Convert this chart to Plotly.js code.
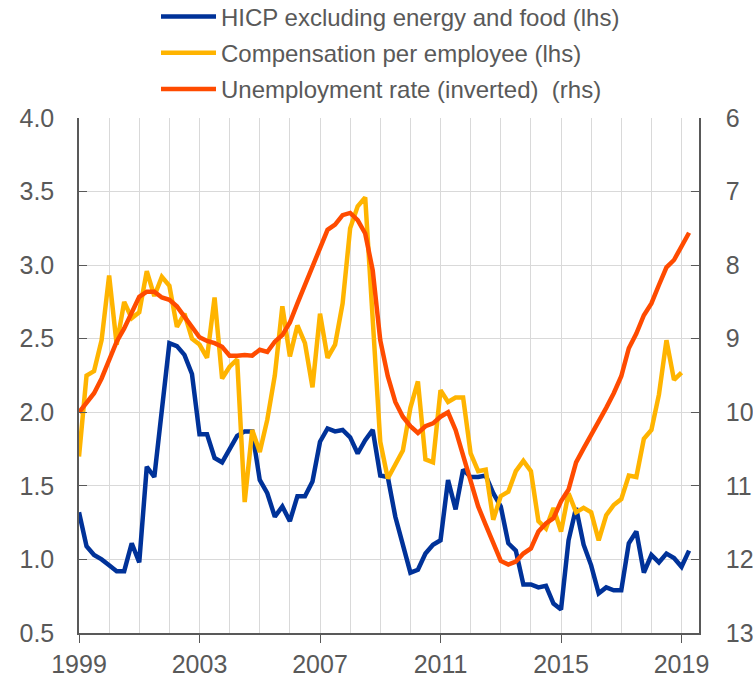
<!DOCTYPE html>
<html>
<head>
<meta charset="utf-8">
<script src="https://cdn.plot.ly/plotly-3.0.1.min.js"></script>
<style>html,body{margin:0;padding:0;background:#fff}</style>
</head>
<body>
<div id="chart" style="width:753px;height:678px"></div>
<script>
// quarterly series, first point = 1999 Q1
var hicp = [1.32, 1.09, 1.03, 1.00, 0.96, 0.92, 0.92, 1.11, 0.98, 1.63, 1.56, 2.02,
    2.47, 2.45, 2.39, 2.26, 1.85, 1.85, 1.69, 1.66, 1.75, 1.84, 1.87, 1.87,
    1.54, 1.45, 1.29, 1.36, 1.26, 1.43, 1.43, 1.53, 1.80, 1.89, 1.87, 1.88,
    1.83, 1.72, 1.81, 1.88, 1.57, 1.56, 1.29, 1.11, 0.91, 0.93, 1.04, 1.10,
    1.13, 1.54, 1.34, 1.61, 1.56, 1.56, 1.57, 1.45, 1.36, 1.11, 1.06, 0.83,
    0.83, 0.81, 0.82, 0.70, 0.66, 1.13, 1.35, 1.10, 0.96, 0.77, 0.81, 0.79,
    0.79, 1.11, 1.19, 0.91, 1.03, 0.98, 1.04, 1.01, 0.95, 1.06];

var compensation = [1.70, 2.25, 2.28, 2.49, 2.93, 2.46, 2.75, 2.64, 2.68, 2.96, 2.79, 2.92,
    2.86, 2.58, 2.67, 2.50, 2.46, 2.37, 2.78, 2.23, 2.31, 2.36, 1.39, 1.88,
    1.73, 1.95, 2.25, 2.72, 2.38, 2.59, 2.47, 2.17, 2.67, 2.37, 2.46, 2.74,
    3.25, 3.40, 3.46, 2.65, 1.80, 1.55, 1.65, 1.74, 2.03, 2.21, 1.68, 1.66,
    2.15, 2.07, 2.10, 2.10, 1.72, 1.60, 1.61, 1.27, 1.43, 1.46, 1.60, 1.67,
    1.60, 1.26, 1.21, 1.35, 1.19, 1.45, 1.32, 1.35, 1.32, 1.13, 1.30, 1.37,
    1.41, 1.57, 1.56, 1.82, 1.88, 2.12, 2.49, 2.22, 2.27];

var unemployment = [10.00, 9.88, 9.74, 9.54, 9.29, 9.04, 8.86, 8.65, 8.43, 8.36, 8.36, 8.44,
    8.47, 8.56, 8.70, 8.86, 8.98, 9.03, 9.06, 9.11, 9.23, 9.23, 9.22, 9.23,
    9.15, 9.18, 9.04, 8.95, 8.78, 8.52, 8.27, 8.02, 7.75, 7.52, 7.45, 7.32,
    7.29, 7.39, 7.57, 8.07, 9.02, 9.51, 9.86, 10.06, 10.19, 10.28, 10.19, 10.15,
    10.06, 10.00, 10.24, 10.60, 10.96, 11.28, 11.53, 11.78, 12.02, 12.07, 12.03, 11.92,
    11.85, 11.62, 11.51, 11.44, 11.21, 11.05, 10.68, 10.49, 10.31, 10.15, 9.94, 9.74,
    9.51, 9.13, 8.93, 8.68, 8.52, 8.27, 8.03, 7.93, 7.73, 7.56];

var yearTicks = [1999, 2003, 2007, 2011, 2015, 2019];

function quarters(arr) {
    return arr.map(function (v, i) { return 1999 + i / 4; });
}

var grey = '#595959';
var gridGrey = '#d9d9d9';
var tickFont = {family: 'Arial, Liberation Sans, sans-serif', size: 25, color: grey};

var trace1 = {
    x: quarters(hicp),
    y: hicp,
    type: 'scatter',
    mode: 'lines',
    name: 'HICP excluding energy and food (lhs)',
    legendgroup: 'a',
    line: {color: '#003299', width: 4.5}
};

var trace2 = {
    x: quarters(compensation),
    y: compensation,
    type: 'scatter',
    mode: 'lines',
    name: 'Compensation per employee (lhs)',
    legendgroup: 'b',
    line: {color: '#FFB400', width: 4.5}
};

var trace3 = {
    x: quarters(unemployment),
    y: unemployment,
    type: 'scatter',
    mode: 'lines',
    yaxis: 'y2',
    name: 'Unemployment rate (inverted)  (rhs)',
    legendgroup: 'c',
    line: {color: '#FF4B00', width: 4.5}
};

var layout = {
    width: 753,
    height: 678,
    margin: {l: 79, r: 54, t: 118, b: 45, autoexpand: false},
    paper_bgcolor: '#fff',
    plot_bgcolor: '#fff',
    font: {family: 'Arial, Liberation Sans, sans-serif', color: grey},
    showlegend: true,
    legend: {
        x: 0.1242, xanchor: 'left',
        y: 1.24, yanchor: 'top',
        font: {size: 24, color: grey},
        bgcolor: 'rgba(0,0,0,0)',
        itemwidth: 55,
        tracegroupgap: 2
    },
    xaxis: {
        range: [1999, 2019.58],
        tickvals: yearTicks,
        ticktext: yearTicks.map(String),
        ticks: 'outside', ticklen: 8, tickcolor: grey,
        showline: true, linecolor: grey, linewidth: 1.5,
        showgrid: true, gridcolor: gridGrey,
        minor: {dtick: 1, tick0: 1999, showgrid: true, gridcolor: gridGrey, ticks: ''},
        zeroline: false,
        tickfont: tickFont
    },
    yaxis: {
        range: [0.5, 4],
        dtick: 0.5, tick0: 0.5,
        tickformat: '.1f',
        ticks: 'inside', ticklen: 8, tickcolor: grey,
        showline: true, linecolor: grey, linewidth: 1.5,
        showgrid: true, gridcolor: gridGrey,
        zeroline: false,
        ticklabelstandoff: 18,
        tickfont: tickFont
    },
    yaxis2: {
        range: [13, 6],
        dtick: 1,
        overlaying: 'y', side: 'right',
        ticks: 'inside', ticklen: 8, tickcolor: grey,
        showline: true, linecolor: grey, linewidth: 1.5,
        showgrid: false, zeroline: false,
        ticklabelstandoff: 20,
        tickfont: tickFont
    }
};

Plotly.newPlot('chart', [trace1, trace2, trace3], layout, {displayModeBar: false});
</script>
</body>
</html>
